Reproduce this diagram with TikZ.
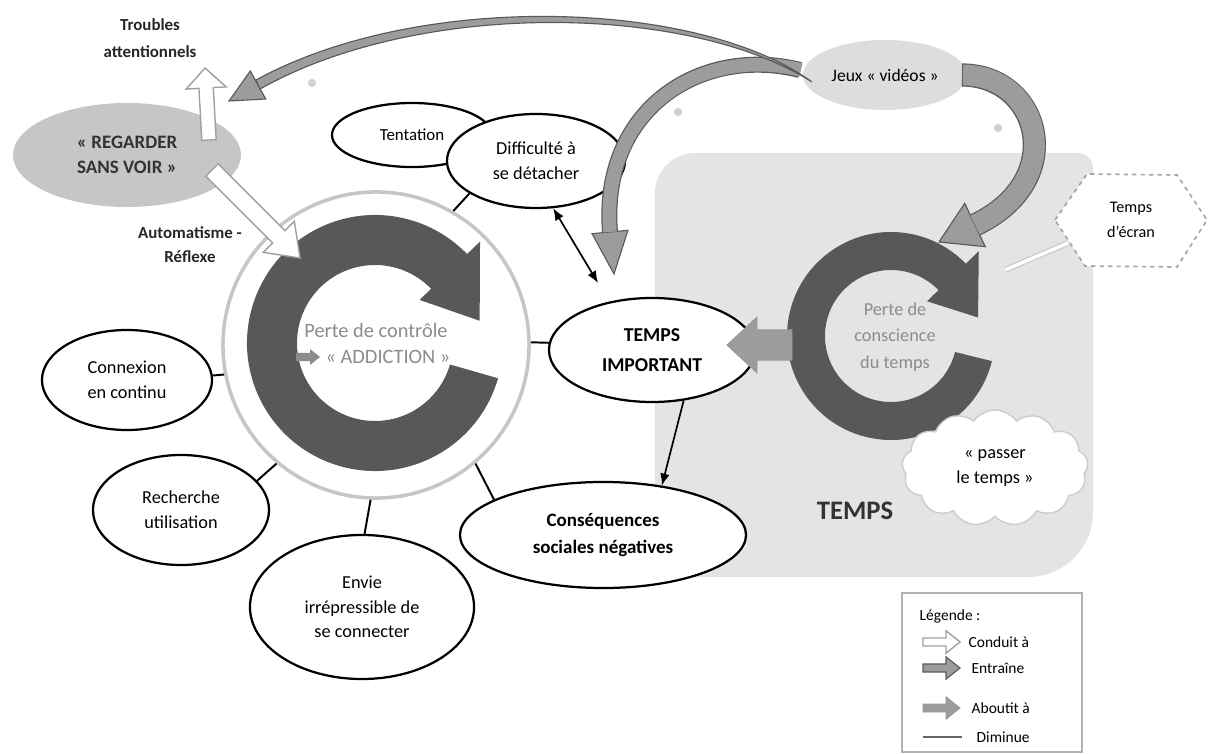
\documentclass[tikz,border=0pt]{standalone}
\usepackage{fontspec}
\setmainfont{Carlito}
\usetikzlibrary{calc,arrows.meta,shapes.geometric,shapes.symbols,positioning}

\definecolor{ringgray}{HTML}{585858}
\definecolor{bandgray}{HTML}{9C9C9C}
\definecolor{zonegray}{HTML}{E4E4E4}
\definecolor{softgray}{HTML}{C6C6C6}
\definecolor{palegray}{HTML}{DDDDDD}
\definecolor{textgray}{HTML}{8C8C8C}

\tikzset{
  bulle/.style={ellipse, draw=black, line width=1.6pt, fill=white, inner sep=0pt,
    align=center, font=\fontsize{13}{17.5}\selectfont},
  lien/.style={line width=1.4pt},
  fleche/.style={line width=1.2pt, -{Latex[length=3mm,width=2.4mm]}},
  conduit/.style={draw=gray!75, fill=white, line width=1pt},
  entraine/.style={draw=black!65, fill=bandgray, line width=0.8pt},
  aboutit/.style={draw=gray!80, fill=bandgray, line width=0.6pt},
  legende/.style={font=\fontsize{11}{13}\selectfont, inner sep=1pt},
}

% block arrow: style, from, to, half body, half head, head length
\newcommand{\blocarrow}[6]{%
  \coordinate (ba) at #2; \coordinate (bb) at #3;
  \coordinate (bh) at ($(bb)!#6!(ba)$);
  \draw[#1] ($(ba)!#4!90:(bb)$) -- ($(bh)!#4!-90:(ba)$) -- ($(bh)!#5!-90:(ba)$)
    -- (bb) -- ($(bh)!#5!90:(ba)$) -- ($(bh)!#4!90:(ba)$) -- ($(ba)!#4!-90:(bb)$) -- cycle;}

% cycle arrow: centre, inner r, outer r, start, end, tip angle
\newcommand{\cyclefleche}[6]{%
  \fill[ringgray] ($(#1)+(#4:#3)$) arc[start angle=#4, end angle=#5, radius=#3]
    -- ($(#1)+(#5:{#3+18})$) -- ($(#1)+(#6:{(#2+#3)/2+4})$) -- ($(#1)+(#5:{#2-16})$)
    -- ($(#1)+(#5:#2)$) arc[start angle=#5, end angle=#4, radius=#2] -- cycle;}

\begin{document}
\begin{tikzpicture}[x=0.025cm, y=-0.025cm]
\useasboundingbox (0,0) rectangle (1210,754);

% zone TEMPS
\fill[zonegray] (655,577) -- (655,193) arc[start angle=180, end angle=270, radius=40]
  -- (1078,153) arc[start angle=270, end angle=360, radius=15]
  -- (1093,512) arc[start angle=0, end angle=90, radius=65] -- cycle;

% small dots
\fill[gray!35] (312,83) circle (3pt);
\fill[gray!35] (678,112) circle (3pt);
\fill[gray!35] (998,128) circle (3pt);

% grey ellipses
\node[ellipse, fill=softgray, minimum width=5.7cm, minimum height=2.6cm, inner sep=0pt,
  align=center, font=\bfseries\fontsize{13.5}{18}\selectfont, text=black!80] (regarder) at (127,155) {« REGARDER\\SANS VOIR »};
\node[ellipse, fill=palegray, minimum width=4.1cm, minimum height=1.75cm, inner sep=0pt,
  font=\fontsize{12.5}{15}\selectfont] (jeux) at (885,75) {Jeux « vidéos »};

% big circle and cycles
\node[circle, draw=gray!45, line width=2.5pt, fill=white, minimum size=7.65cm] (cercle) at (376,345) {};
\coordinate (cg) at (375,343);
\coordinate (cd) at (891,336);
\cyclefleche{cg}{78}{128}{16}{316}{348}
\cyclefleche{cd}{66}{104}{14}{316}{348}

% ellipses
\node[bulle, minimum width=4cm, minimum height=1.6cm, font=\fontsize{12}{15}\selectfont] (tentation) at (412,135) {Tentation};
\node[bulle, minimum width=4.45cm, minimum height=2.35cm] (difficulte) at (536,161) {Difficulté à\\se détacher};
\node[bulle, minimum width=4.25cm, minimum height=2.5cm] (connexion) at (127,380) {Connexion\\en continu};
\node[bulle, minimum width=4.4cm, minimum height=2.75cm] (recherche) at (181,510) {Recherche\\utilisation};
\node[bulle, minimum width=5.6cm, minimum height=3.6cm] (envie) at (362,607) {Envie\\irrépressible de\\se connecter};
\node[bulle, minimum width=7.15cm, minimum height=2.65cm, font=\bfseries\fontsize{13.5}{19}\selectfont] (consequences) at (603,535) {Conséquences\\sociales négatives};
\node[bulle, minimum width=5.15cm, minimum height=2.6cm, font=\bfseries\fontsize{14}{21}\selectfont] (tempsimp) at (652,350) {TEMPS\\IMPORTANT};

% links to the circle
\draw[lien] (difficulte.206) -- (cercle.60);
\draw[lien] (connexion.3) -- (cercle.191);
\draw[lien] (recherche.21) -- (cercle.230);
\draw[lien] (envie.88) -- (cercle.268);
\draw[lien] (consequences.162) -- (cercle.310);
\draw[lien] (tempsimp.176) -- (cercle.1);

% arrows
\coordinate (fin1) at (598,283);
\draw[line width=1.2pt, {Latex[length=3mm,width=2.4mm]}-{Latex[length=3mm,width=2.4mm]}] (difficulte.290) -- (fin1);
\draw[fleche] (tempsimp.302) -- (consequences.40);

% white block arrows
\coordinate (regtop) at (209,140);
\coordinate (troublesbas) at (205,68);
\blocarrow{conduit}{(regtop)}{(troublesbas)}{0.18cm}{0.5cm}{0.5cm}
\coordinate (regbas) at (212,170);
\coordinate (cerclehaut) at (300,258);
\blocarrow{conduit}{(regbas)}{(cerclehaut)}{0.22cm}{0.55cm}{0.75cm}

% aboutit
\coordinate (ringgauche) at (792,345);
\coordinate (tempsdroite) at (727,345);
\blocarrow{aboutit}{(ringgauche)}{(tempsdroite)}{0.38cm}{0.7cm}{0.75cm}

% curved arrows from jeux
\coordinate (bA) at (975,225); \coordinate (tA) at (939,242);
\draw[entraine] ($(bA)!0.6cm!90:(tA)$) -- (tA) -- ($(bA)!0.6cm!-90:(tA)$) -- cycle;
\draw[black!65, line width=0.58cm] (962,75) .. controls (1040,75) and (1070,180) .. (bA);
\draw[bandgray, line width=0.52cm] (963,75) .. controls (1040,75) and (1070,180) .. (bA);

\coordinate (bB) at (610,232); \coordinate (tB) at (614,274);
\draw[entraine] ($(bB)!0.45cm!90:(tB)$) -- (tB) -- ($(bB)!0.45cm!-90:(tB)$) -- cycle;
\draw[black!65, line width=0.4cm] (800,70) .. controls (700,45) and (600,110) .. (bB);
\draw[bandgray, line width=0.34cm] (801,70) .. controls (700,45) and (600,110) .. (bB);

\coordinate (bC) at (258,85); \coordinate (tC) at (229,101);
\draw[entraine] ($(bC)!0.4cm!90:(tC)$) -- (tC) -- ($(bC)!0.4cm!-90:(tC)$) -- cycle;
\draw[entraine] (812,82) .. controls (700,0) and (420,-10) .. (256,80)
  -- (260,89) .. controls (420,-1) and (690,4) .. (812,82) -- cycle;

% texts
\node[align=center, font=\bfseries\fontsize{12}{19}\selectfont, text=black!85] (troubles) at (150,38) {Troubles\\attentionnels};
\node[align=center, font=\bfseries\fontsize{12}{17}\selectfont, text=black!85] (automatisme) at (190,245) {Automatisme -\\Réflexe};
\node[font=\fontsize{14.5}{17}\selectfont, text=textgray] (perte) at (376,330) {Perte de contrôle};
\node[font=\fontsize{14.5}{17}\selectfont, text=textgray] (addiction) at (388,357) {« ADDICTION »};
\coordinate (pflA) at (296,357); \coordinate (pflB) at (320,357);
\blocarrow{draw=none, fill=textgray}{(pflA)}{(pflB)}{0.1cm}{0.2cm}{0.25cm}
\node[align=center, font=\fontsize{13}{19}\selectfont, text=textgray] (conscience) at (895,337) {Perte de\\conscience\\du temps};
\node[font=\bfseries\fontsize{19}{22}\selectfont, text=black!80] (temps) at (855,511) {TEMPS};

% cloud
\node[cloud, cloud puffs=13, cloud puff arc=110, aspect=1.6, draw=gray!40, line width=1pt, fill=white,
  minimum width=4.65cm, minimum height=2.9cm, inner sep=0pt, align=center,
  font=\fontsize{13}{17.5}\selectfont] (passer) at (995,468) {« passer\\le temps »};

% hexagon
\draw[gray!70, dashed, line width=1.2pt, fill=white] (1055,220) -- (1087,174) -- (1177,175)
  -- (1207,220) -- (1177,267) -- (1085,266) -- cycle;
\node[align=center, font=\fontsize{11.5}{17.5}\selectfont] (ecran) at (1131,220) {Temps\\d'écran};
\coordinate (hexg) at (1068,243);
\coordinate (ringpt) at (1005,270);
\draw[gray!45, double=white, double distance=2.5pt, line width=0.8pt] (hexg) -- (ringpt);

% legend
\draw[gray!60, line width=0.8pt] (902,593) rectangle (1082,752);
\node[legende, anchor=west] (leg) at (918,616) {Légende :};
\coordinate (l1a) at (923,642); \coordinate (l1b) at (960,642);
\blocarrow{conduit}{(l1a)}{(l1b)}{0.1cm}{0.28cm}{0.35cm}
\node[legende, anchor=west] (leg1) at (967,642) {Conduit à};
\coordinate (l2a) at (923,668); \coordinate (l2b) at (960,668);
\blocarrow{entraine}{(l2a)}{(l2b)}{0.1cm}{0.28cm}{0.35cm}
\node[legende, anchor=west] (leg2) at (970,668) {Entraîne};
\coordinate (l3a) at (923,708); \coordinate (l3b) at (960,708);
\blocarrow{aboutit}{(l3a)}{(l3b)}{0.1cm}{0.28cm}{0.35cm}
\node[legende, anchor=west] (leg3) at (970,708) {Aboutit à};
\coordinate (l4a) at (923,737); \coordinate (l4b) at (962,737);
\draw[line width=1pt, gray!80!black] (l4a) -- (l4b);
\node[legende, anchor=west] (leg4) at (975,737) {Diminue};

\end{tikzpicture}
\end{document}
